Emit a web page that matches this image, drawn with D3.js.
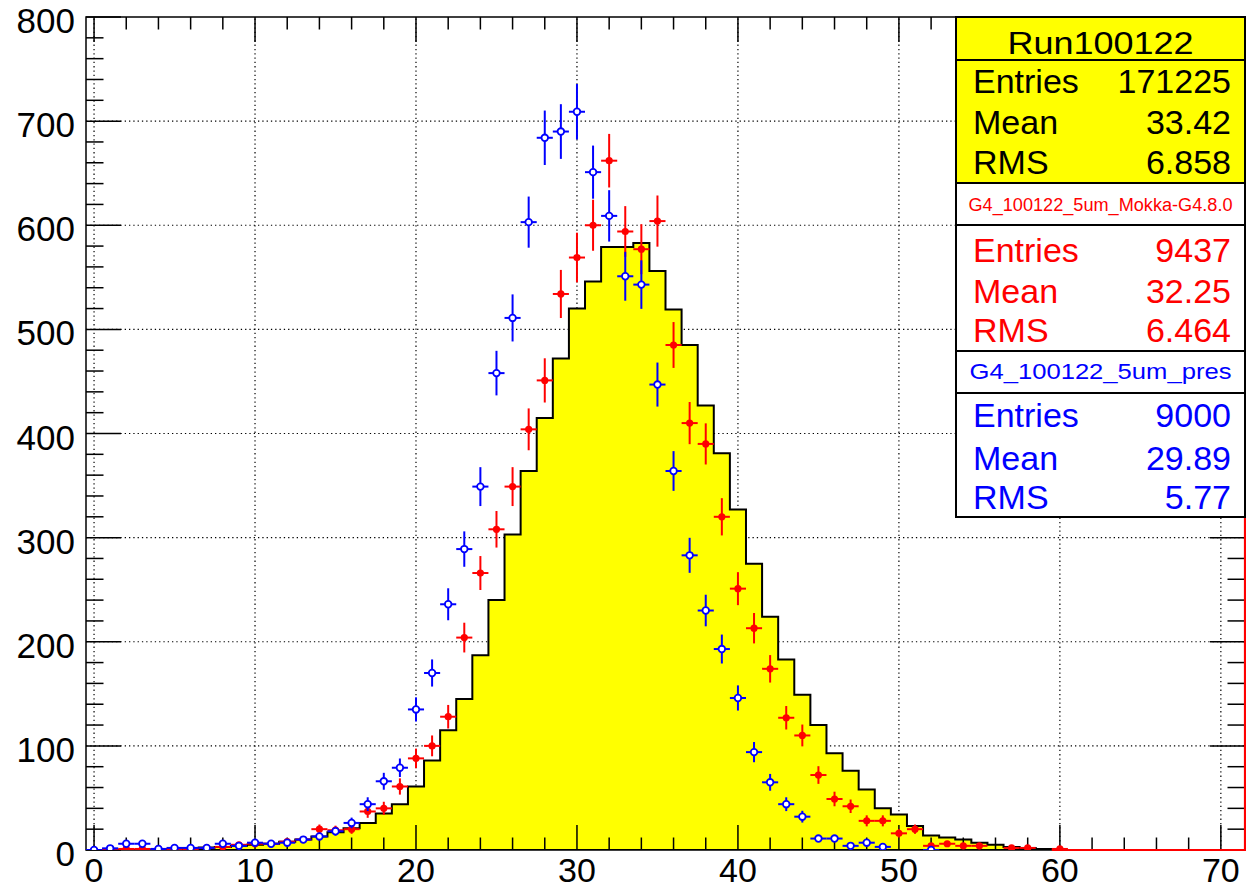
<!DOCTYPE html>
<html><head><meta charset="utf-8">
<script src="https://cdn.jsdelivr.net/npm/d3@7"></script>
<style>
body{margin:0;background:#fff;}
svg{display:block;}
text{font-family:"Liberation Sans",Arial,Helvetica,sans-serif;}
</style>
</head><body>
<svg id="c" width="1246" height="890"></svg>
<script>
// ---------------- data ----------------
const binCenters = d3.range(0, 72);            // bins of width 1 centred on integers
const runData = [0,0,0,0,0,1,1.6,2.5,3,4,5,6,8,10,13,17,21,26,35,44,61,86,115,145,187,240,303,364,415,472,520,546,579,579,583,556,519,485,427,381,327,275,224,183,149,120,93,76,58,40,34,23,14,12,10,7,5,3,2,1,0,0,0,0,0,0,0,0,0,0,0,0];
const mokka = [0,1,1,1,1,1,1,2,3,5,6,6,8,10,20,19,20,37,40,61,88,100,128,204,266,308,349,404,451,534,569,600,662,594,577,604,485,410,390,320,251,213,174,127,110,72,49,42,28,28,16,20,4,6,4,4,null,2,2,null,1,null,null,null,null,null,null,null,null,null,null,null];
const pres = [0,1.6,6,6,1,2,2,2,6,4,7,6,7,10,13,18,26,44,66,79,135,170,236,289,349,458,511,603,684,690,709,651,609,551,543,447,364,283,230,193,146,94,65,44,32,11,11,4,7,3,null,null,0,null,null,null,null,null,null,null,null,null,null,null,null,null,null,null,null,null,null,null];
const mokkaEdge = [[59.5,0],[71.5,0],[71.5,800]];
const xTicks = [0,10,20,30,40,50,60,70];
const yTicks = [0,100,200,300,400,500,600,700,800];
const statLabels = ["Entries","Mean","RMS"];
const runTitle = "Run100122";
const runStats = ["171225","33.42","6.858"];
const mokkaTitle = "G4_100122_5um_Mokka-G4.8.0";
const mokkaStats = ["9437","32.25","6.464"];
const presTitle = "G4_100122_5um_pres";
const presStats = ["9000","29.89","5.77"];

// ---------------- scales ----------------
const svg = d3.select("#c");
const L = 86, R = 1245, T = 17, B = 850;
const x = d3.scaleLinear().domain([-0.5, 71.5]).range([L, R]);
const y = d3.scaleLinear().domain([0, 800]).range([B, T]);

svg.append("rect").attr("width",1246).attr("height",890).attr("fill","#fff");
svg.append("defs").append("clipPath").attr("id","fr")
  .append("rect").attr("x",L).attr("y",T).attr("width",R-L).attr("height",B-T);

// grid
const grid = svg.append("g").attr("stroke","#000").attr("stroke-width",1.2).attr("stroke-dasharray","1.3,3");
grid.selectAll("line.v").data(xTicks).join("line")
  .attr("x1",d=>x(d)).attr("x2",d=>x(d)).attr("y1",B).attr("y2",T);
grid.selectAll("line.h").data(yTicks.slice(1,-1)).join("line")
  .attr("x1",L).attr("x2",R).attr("y1",d=>y(d)).attr("y2",d=>y(d));

// yellow histogram
const stepPts = [[-0.5,0]];
binCenters.forEach((c,i)=>{ stepPts.push([c-0.5,runData[i]]); stepPts.push([c+0.5,runData[i]]); });
stepPts.push([71.5,0]);
const line = d3.line().x(d=>x(d[0])).y(d=>y(d[1]));
svg.append("path").attr("d",line(stepPts)+"Z").attr("fill","#ffff00").attr("stroke","#000")
  .attr("stroke-width",2).attr("stroke-linejoin","miter").attr("clip-path","url(#fr)");

// ticks
const tk = svg.append("g").attr("stroke","#000").attr("stroke-width",1.5);
const xMinor = d3.range(0, 72, 2).filter(v=>v%10!==0);
const yMinor = d3.range(0, 800, 20).filter(v=>v%100!==0);
xTicks.forEach(v=>{
  tk.append("line").attr("x1",x(v)).attr("x2",x(v)).attr("y1",B).attr("y2",B-25);
  tk.append("line").attr("x1",x(v)).attr("x2",x(v)).attr("y1",T).attr("y2",T+25);
});
xMinor.forEach(v=>{
  tk.append("line").attr("x1",x(v)).attr("x2",x(v)).attr("y1",B).attr("y2",B-12.5);
  tk.append("line").attr("x1",x(v)).attr("x2",x(v)).attr("y1",T).attr("y2",T+12.5);
});
yTicks.forEach(v=>{
  tk.append("line").attr("x1",L).attr("x2",L+35).attr("y1",y(v)).attr("y2",y(v));
  tk.append("line").attr("x1",R).attr("x2",R-35).attr("y1",y(v)).attr("y2",y(v));
});
yMinor.forEach(v=>{
  tk.append("line").attr("x1",L).attr("x2",L+17.5).attr("y1",y(v)).attr("y2",y(v));
  tk.append("line").attr("x1",R).attr("x2",R-17.5).attr("y1",y(v)).attr("y2",y(v));
});

// frame
svg.append("rect").attr("x",L).attr("y",T).attr("width",R-L).attr("height",B-T)
  .attr("fill","none").attr("stroke","#000").attr("stroke-width",1.5);

// points with error bars
function drawPoints(vals, color, open){
  const g = svg.append("g").attr("clip-path","url(#fr)");
  const pts = binCenters.map((c,i)=>({c, v: vals[i]})).filter(d=>d.v!==null);
  g.selectAll("line.ex").data(pts).join("line")
    .attr("x1",d=>x(d.c-0.5)).attr("x2",d=>x(d.c+0.5)).attr("y1",d=>y(d.v)).attr("y2",d=>y(d.v))
    .attr("stroke",color).attr("stroke-width",2);
  g.selectAll("line.ey").data(pts).join("line")
    .attr("x1",d=>x(d.c)).attr("x2",d=>x(d.c))
    .attr("y1",d=>y(Math.max(0,d.v-Math.sqrt(d.v)))).attr("y2",d=>y(d.v+Math.sqrt(d.v)))
    .attr("stroke",color).attr("stroke-width",2);
  g.selectAll("circle").data(pts).join("circle")
    .attr("cx",d=>x(d.c)).attr("cy",d=>y(d.v)).attr("r", open?3.3:3.6)
    .attr("fill", open?"#fff":color).attr("stroke", open?color:"none").attr("stroke-width",1.8);
}
drawPoints(mokka, "#ff0000", false);
svg.append("path").attr("d",line(mokkaEdge)).attr("fill","none").attr("stroke","#ff0000").attr("stroke-width",2.2);
drawPoints(pres, "#0000ff", true);

// stats boxes
const BX0 = 956, BX1 = 1245, LX = 973, VX = 1231;
function statBox(top, sep, bottom, fill, color, title, tSize, tLen, tBase, stats, bases){
  svg.append("rect").attr("x",BX0).attr("y",top).attr("width",BX1-BX0).attr("height",bottom-top)
    .attr("fill",fill).attr("stroke","#000").attr("stroke-width",2);
  svg.append("line").attr("x1",BX0).attr("x2",BX1).attr("y1",sep).attr("y2",sep)
    .attr("stroke","#000").attr("stroke-width",2);
  svg.append("text").attr("x",(BX0+BX1)/2).attr("y",tBase).attr("text-anchor","middle")
    .attr("font-size",tSize).attr("fill",color).attr("textLength",tLen)
    .attr("lengthAdjust","spacingAndGlyphs").text(title);
  statLabels.forEach((lab,i)=>{
    svg.append("text").attr("x",LX).attr("y",bases[i]).attr("font-size",34).attr("fill",color).text(lab);
    svg.append("text").attr("x",VX).attr("y",bases[i]).attr("font-size",34).attr("fill",color)
      .attr("text-anchor","end").text(stats[i]);
  });
}
statBox(17, 60, 183, "#ffff00", "#000", runTitle, 31, 186, 54, runStats, [93,133.5,174]);
statBox(183, 225, 351, "#fff", "#ff0000", mokkaTitle, 18, 264, 211, mokkaStats, [262,302.5,341.5]);
statBox(351, 393, 517, "#fff", "#0000ff", presTitle, 22, 262, 378.6, presStats, [426.6,470,509]);

// tick labels
svg.append("g").selectAll("text").data(yTicks).join("text")
  .attr("x",75).attr("y",d=>y(d)+16).attr("text-anchor","end").attr("font-size",35).text(d=>d);
svg.append("g").selectAll("text").data(xTicks).join("text")
  .attr("x",d=>x(d)).attr("y",882).attr("text-anchor","middle").attr("font-size",34).text(d=>d);
</script>
</body></html>
